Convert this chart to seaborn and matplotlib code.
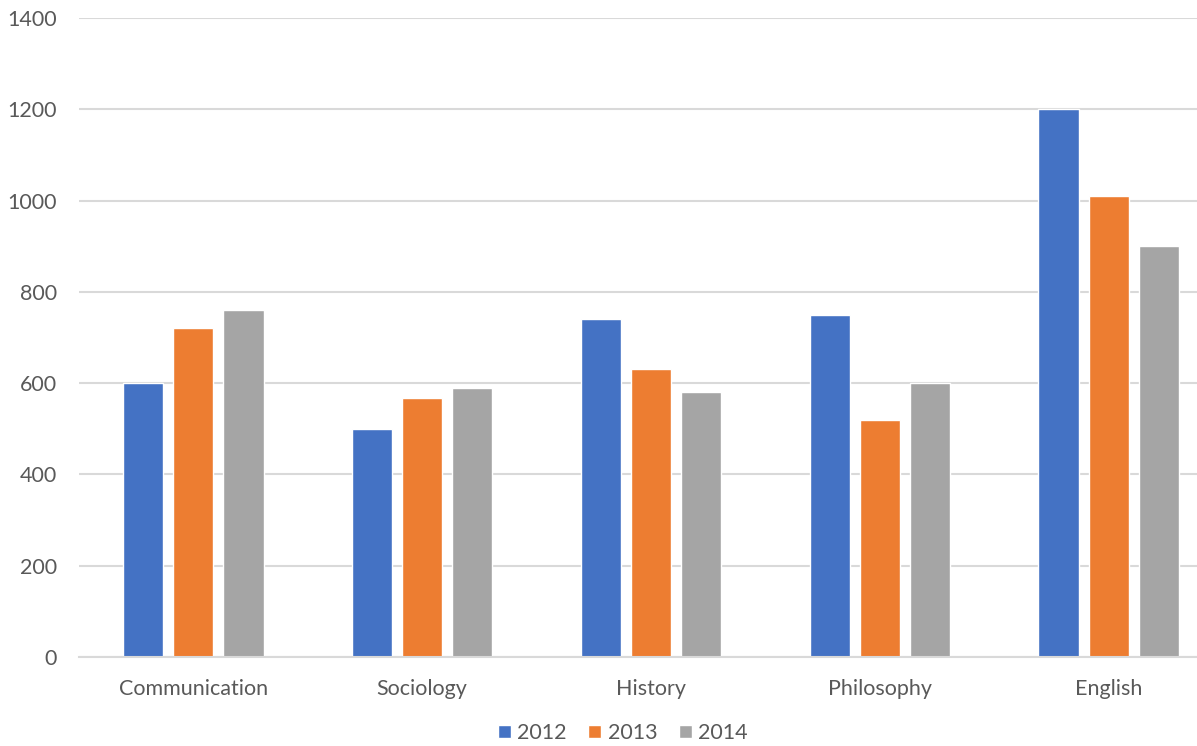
import matplotlib
matplotlib.use("Agg")
import matplotlib.pyplot as plt
import seaborn as sns
import pandas as pd
from matplotlib.patches import Patch

categories = ["Communication", "Sociology", "History", "Philosophy", "English"]
years = ["2012", "2013", "2014"]
values_2012 = [600, 500, 740, 750, 1200]
values_2013 = [720, 567, 630, 520, 1010]
values_2014 = [760, 590, 580, 600, 900]
colors = ["#4472C4", "#ED7D31", "#A5A5A5"]

df = pd.DataFrame({
    "Major": categories * 3,
    "Year": [y for y in years for _ in categories],
    "Value": values_2012 + values_2013 + values_2014,
})

sns.set_theme(style="white")
plt.rcParams["font.family"] = ["Lato", "DejaVu Sans"]

W, H = 1197, 746
fig = plt.figure(figsize=(W / 100, H / 100), dpi=100)
ax = fig.add_axes([79 / W, 89 / H, 1144 / W, 639 / H])

sns.barplot(data=df, x="Major", y="Value", hue="Year", palette=colors,
            width=0.657, gap=0.2, ax=ax, legend=False, saturation=1,
            errorbar=None)

ax.set_ylim(0, 1400)
ax.set_xlim(-0.5, 4.5)
ax.set_yticks(range(0, 1401, 200))
ax.yaxis.grid(True, color="#d9d9d9", linewidth=1.5)
ax.set_axisbelow(True)
for s in ["top", "right", "left"]:
    ax.spines[s].set_visible(False)
ax.spines["bottom"].set_color("#d9d9d9")
ax.spines["bottom"].set_linewidth(1.5)
ax.tick_params(axis="both", length=0, labelsize=15.5, colors="#595959")
ax.tick_params(axis="x", pad=16)
ax.tick_params(axis="y", pad=16)
ax.set_xlabel("")
ax.set_ylabel("")

handles = [Patch(facecolor=c, label=y) for c, y in zip(colors, years)]
fig.legend(handles=handles, loc="center", bbox_to_anchor=(623 / W, 1 - 733 / H),
           ncol=3, frameon=False, fontsize=15.5, handlelength=0.6, handleheight=0.6,
           handletextpad=0.3, columnspacing=1.0, labelcolor="#595959")

fig.savefig("out.png", dpi=100)
